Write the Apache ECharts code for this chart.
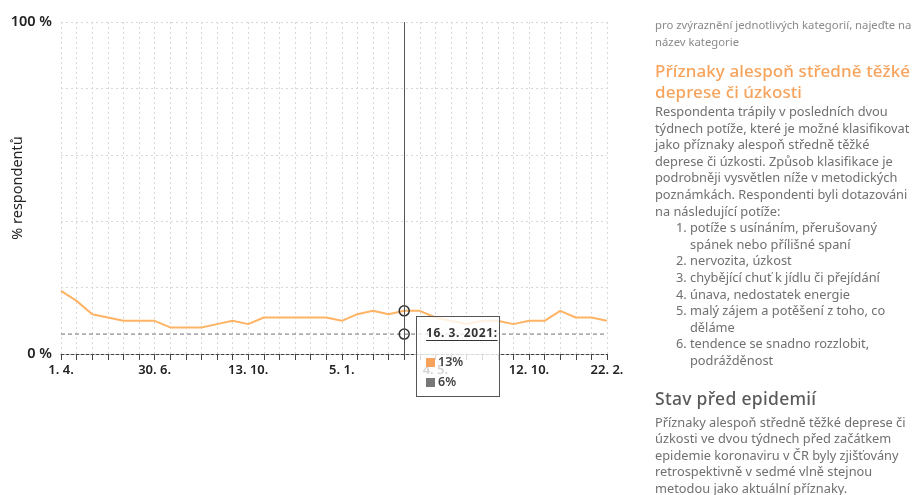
<!DOCTYPE html>
<html>
<head>
<meta charset="utf-8">
<script src="https://cdn.jsdelivr.net/npm/echarts@6/dist/echarts.min.js"></script>
<style>
html,body{margin:0;padding:0;background:#fff;width:919px;height:495px;overflow:hidden;}
#chart{position:absolute;left:0;top:0;width:919px;height:495px;}
#panel{position:absolute;left:655px;top:16px;width:264px;font-family:'Noto Sans',sans-serif;color:#707070;}
#panel .hint{font-size:11.3px;line-height:17px;color:#8a8a8a;}
#panel h2{margin:10px 0 0 0;font-size:17px;line-height:21px;font-weight:500;color:#f7a35c;letter-spacing:0.1px;}
#panel h3{margin:19px 0 0 0;font-size:17.5px;line-height:21px;font-weight:500;color:#5a5a5a;letter-spacing:0.3px;}
#panel p{margin:1px 0 0 0;font-size:12.8px;line-height:16.6px;}
#panel h3 + p{margin-top:5px;}
#panel ol{margin:0;padding-left:35px;font-size:12.8px;line-height:16.6px;}
</style>
</head>
<body>
<div id="chart"></div>
<div id="panel">
  <div class="hint">pro zvýraznění jednotlivých kategorií, najeďte na<br>název kategorie</div>
  <h2>Příznaky alespoň středně těžké deprese či úzkosti</h2>
  <p>Respondenta trápily v posledních dvou týdnech potíže, které je možné klasifikovat jako příznaky alespoň středně těžké deprese či úzkosti. Způsob klasifikace je podrobněji vysvětlen níže v metodických poznámkách. Respondenti byli dotazováni na následující potíže:</p>
  <ol>
    <li>potíže s usínáním, přerušovaný spánek nebo přílišné spaní</li>
    <li>nervozita, úzkost</li>
    <li>chybějící chuť k jídlu či přejídání</li>
    <li>únava, nedostatek energie</li>
    <li>malý zájem a potěšení z toho, co děláme</li>
    <li>tendence se snadno rozzlobit, podrážděnost</li>
  </ol>
  <h3>Stav před epidemií</h3>
  <p>Příznaky alespoň středně těžké deprese či úzkosti ve dvou týdnech před začátkem epidemie koronaviru v ČR byly zjišťovány retrospektivně v sedmé vlně stejnou metodou jako aktuální příznaky.</p>
</div>
<script>
// survey dates (category axis)
const categories = [
  '1. 4. 2020','15. 4. 2020','29. 4. 2020','12. 5. 2020','26. 5. 2020','16. 6. 2020',
  '30. 6. 2020','21. 7. 2020','11. 8. 2020','1. 9. 2020','15. 9. 2020','29. 9. 2020',
  '13. 10. 2020','27. 10. 2020','10. 11. 2020','24. 11. 2020','8. 12. 2020','22. 12. 2020',
  '5. 1. 2021','19. 1. 2021','2. 2. 2021','23. 2. 2021','16. 3. 2021','13. 4. 2021',
  '4. 5. 2021','25. 5. 2021','29. 6. 2021','27. 7. 2021','24. 8. 2021','21. 9. 2021',
  '12. 10. 2021','9. 11. 2021','30. 11. 2021','21. 12. 2021','25. 1. 2022','22. 2. 2022'
];
// % respondents with at least moderate depression or anxiety symptoms
const symptomValues = [
  19,16,12,11,10,10,
  10,8,8,8,9,10,
  9,11,11,11,11,11,
  10,12,13,12,13,13,
  11,10,9,10,10,9,
  10,10,13,11,11,10
];
// state before the epidemic (retrospective)
const baselineValues = [
  6,6,6,6,6,6,6,6,6,6,6,6,6,6,6,6,6,6,
  6,6,6,6,6,6,6,6,6,6,6,6,6,6,6,6,6,6
];
const yTickLabels = {0: '0 %', 100: '100 %'};
const seriesNames = ['Příznaky alespoň středně těžké deprese či úzkosti', 'Stav před epidemií'];
const seriesColors = ['#f7a35c', '#777777'];
const yAxisName = '% respondentů';
const highlightIndex = 22;

const chart = echarts.init(document.getElementById('chart'), null, {renderer: 'canvas'});
const font = "'Noto Sans', sans-serif";
const hollow = {color: 'rgba(255,255,255,0)', borderColor: '#333', borderWidth: 1.5};

chart.setOption({
  animation: false,
  textStyle: {fontFamily: font},
  grid: {left: 61, right: 312, top: 22, bottom: 141, containLabel: false, outerBoundsMode: 'none'},
  xAxis: {
    type: 'category',
    data: categories,
    boundaryGap: false,
    axisLine: {show: true, lineStyle: {color: '#444', width: 1, type: [3, 2]}},
    axisTick: {show: true, length: 6, lineStyle: {color: '#444'}, interval: 0},
    axisLabel: {
      color: '#222', fontSize: 13, fontWeight: 600, margin: 10, fontFamily: font,
      interval: (i) => i % 6 === 0 || i === categories.length - 1,
      formatter: (v) => v.replace(/ \d{4}$/, '')
    },
    splitLine: {show: true, interval: 0, lineStyle: {color: '#d8d8d8', type: [2, 3], width: 1}}
  },
  yAxis: {
    type: 'value',
    min: 0, max: 100, interval: 20,
    name: yAxisName,
    nameLocation: 'middle',
    nameGap: 36,
    nameRotate: 90,
    nameMoveOverlap: false,
    nameTextStyle: {color: '#222', fontSize: 14.5, fontFamily: font},
    axisLine: {show: false},
    axisTick: {show: false},
    axisLabel: {
      color: '#222', fontSize: 14.5, fontWeight: 600, margin: 9, fontFamily: font,
      formatter: (v) => yTickLabels[v] !== undefined ? yTickLabels[v] : ''
    },
    splitLine: {show: true, lineStyle: {color: '#d8d8d8', type: [2, 3], width: 1}}
  },
  tooltip: {
    trigger: 'axis',
    triggerOn: 'none',
    alwaysShowContent: true,
    transitionDuration: 0,
    showDelay: 0,
    position: function () { return [416, 316]; },
    backgroundColor: 'rgba(255,255,255,0.8)',
    borderColor: '#555',
    borderWidth: 1,
    padding: [7, 9, 8, 9],
    extraCssText: 'box-shadow:none;border-radius:0;width:64px;height:64px;',
    axisPointer: {type: 'line', lineStyle: {color: '#555', width: 1, type: 'solid'}, label: {show: false}},
    formatter: function (params) {
      let html = '<div style="font-family:Noto Sans,sans-serif;font-size:12px;font-weight:700;color:#333;' +
        'text-decoration:underline;text-underline-offset:3px;letter-spacing:0.6px;line-height:18px;white-space:nowrap;">' +
        params[0].axisValue + ':</div><div style="height:10px"></div>';
      params.forEach(function (p) {
        html += '<div style="font-family:Noto Sans,sans-serif;font-size:12.5px;font-weight:600;color:#444;line-height:20px;white-space:nowrap;">' +
          '<span style="display:inline-block;width:9px;height:9px;background:' + seriesColors[p.seriesIndex] +
          ';margin-right:3px;vertical-align:-1px;"></span>' + p.value + '%</div>';
      });
      return html;
    }
  },
  series: [
    {
      name: seriesNames[0],
      type: 'line',
      data: symptomValues,
      showSymbol: false,
      symbol: 'circle',
      symbolSize: 10,
      lineStyle: {color: seriesColors[0], width: 2},
      itemStyle: hollow,
      emphasis: {scale: false, focus: 'none', itemStyle: hollow, lineStyle: {width: 2}},
      z: 3
    },
    {
      name: seriesNames[1],
      type: 'line',
      data: baselineValues,
      showSymbol: false,
      symbol: 'circle',
      symbolSize: 10,
      lineStyle: {color: '#666', width: 1, type: [4, 3]},
      itemStyle: hollow,
      emphasis: {scale: false, focus: 'none', itemStyle: hollow, lineStyle: {width: 1}},
      z: 2
    }
  ]
});

function showTip() {
  chart.dispatchAction({type: 'showTip', seriesIndex: 0, dataIndex: highlightIndex});
}
showTip();
setTimeout(showTip, 30);
</script>
</body>
</html>
